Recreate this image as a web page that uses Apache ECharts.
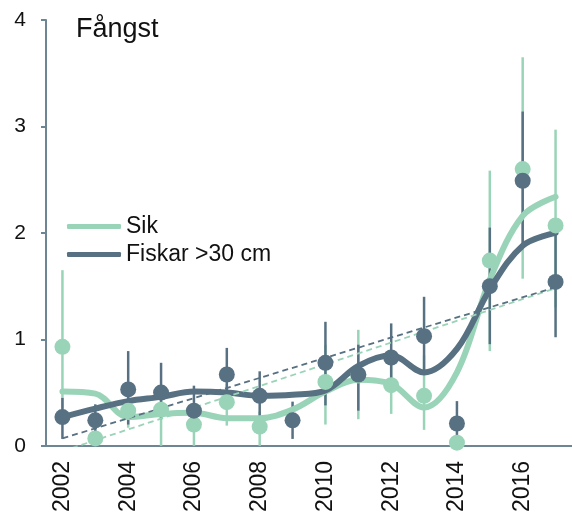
<!DOCTYPE html>
<html>
<head>
<meta charset="utf-8">
<script src="https://cdn.jsdelivr.net/npm/echarts@6/dist/echarts.min.js"></script>
<style>html,body{margin:0;padding:0;background:#fff;}#c{width:572px;height:515px;}</style>
</head>
<body>
<div id="c"></div>
<script>
const years = ['2002','2003','2004','2005','2006','2007','2008','2009','2010','2011','2012','2013','2014','2015','2016','2017'];
const yTicks = [0, 1, 2, 3, 4];

// Sik (whitefish) observed catch and interval
const sikValues = [0.93, 0.07, 0.33, 0.34, 0.20, 0.41, 0.18, null, 0.60, 0.66, 0.57, 0.47, 0.03, 1.74, 2.60, 2.07];
const sikLow    = [0.35, 0.00, 0.17, 0.00, 0.00, 0.19, 0.00, null, 0.20, 0.25, 0.30, 0.15, 0.00, 0.89, 1.57, 1.30];
const sikHigh   = [1.65, 0.14, 0.47, 0.50, 0.36, 0.58, 0.32, null, 0.95, 1.09, 0.85, 0.85, 0.06, 2.585, 3.65, 2.97];
const sikSmooth = [0.51, 0.49, 0.27, 0.30, 0.31, 0.26, 0.26, 0.34, 0.51, 0.62, 0.58, 0.36, 0.69, 1.56, 2.16, 2.34];
const sikTrend  = [-0.05, 1.48]; // 2002, 2017

// Fiskar >30 cm
const bigValues = [0.27, 0.24, 0.53, 0.50, 0.33, 0.67, 0.47, 0.24, 0.78, 0.67, 0.83, 1.03, 0.21, 1.50, 2.49, 1.54];
const bigLow    = [0.065, 0.10, 0.20, 0.25, 0.18, 0.45, 0.25, 0.065, 0.38, 0.33, 0.50, 0.67, 0.00, 0.955, 1.88, 1.02];
const bigHigh   = [0.45, 0.39, 0.89, 0.78, 0.565, 0.92, 0.70, 0.415, 1.165, 0.95, 1.15, 1.40, 0.42, 2.05, 3.14, 1.98];
const bigSmooth = [0.27, 0.35, 0.42, 0.46, 0.51, 0.50, 0.47, 0.48, 0.52, 0.75, 0.85, 0.69, 0.91, 1.47, 1.88, 2.00];
const bigTrend  = [0.07, 1.49]; // 2002, 2017

const LIGHT = '#9AD4B8';
const DARK = '#577082';
const AXIS = '#6E8594';
const FONT = '"Liberation Sans", Arial, sans-serif';

function errSeries(name, low, high, color, width, z) {
  return {
    name: name, type: 'custom', z: z, silent: true,
    encode: {x: 0, y: [1, 2]},
    data: years.map((y, i) => low[i] == null ? null : [i, low[i], high[i]]).filter(d => d),
    renderItem: function (params, api) {
      const a = api.coord([api.value(0), api.value(1)]);
      const b = api.coord([api.value(0), api.value(2)]);
      return {type: 'line', shape: {x1: a[0], y1: a[1], x2: b[0], y2: b[1]},
        style: {stroke: color, lineWidth: width}};
    }
  };
}

const chart = echarts.init(document.getElementById('c'), null, {renderer: 'canvas'});
chart.setOption({
  animation: false,
  backgroundColor: '#fff',
  title: {
    text: 'Fångst', left: 76, top: 16, padding: 0,
    textStyle: {fontFamily: FONT, fontSize: 27, fontWeight: 'normal', color: '#111'}
  },
  legend: {
    orient: 'vertical', left: 67, top: 215, padding: 0,
    itemWidth: 54, itemHeight: 5, itemGap: 5,
    icon: 'roundRect',
    textStyle: {fontFamily: FONT, fontSize: 23, color: '#111', padding: [0, 0, 0, 0]},
    data: ['Sik', 'Fiskar >30 cm']
  },
  grid: {left: 46, top: 20, width: 529, height: 427, containLabel: false},
  xAxis: {
    type: 'category', data: years, boundaryGap: true,
    axisLine: {lineStyle: {color: AXIS, width: 2}},
    axisTick: {alignWithLabel: true, interval: 0, length: 6, lineStyle: {color: AXIS, width: 2}},
    axisLabel: {interval: 1, rotate: 90, margin: 15, fontFamily: FONT, fontSize: 23, color: '#111'},
    splitLine: {show: false}
  },
  yAxis: {
    type: 'value', min: yTicks[0], max: yTicks[yTicks.length - 1], interval: 1,
    axisLine: {show: true, lineStyle: {color: AXIS, width: 2}},
    axisTick: {show: true, length: 5, lineStyle: {color: AXIS, width: 2}},
    axisLabel: {margin: 20, fontFamily: FONT, fontSize: 21, color: '#111'},
    splitLine: {show: false}
  },
  series: [
    errSeries('sikErr', sikLow, sikHigh, LIGHT, 2.5, 1),
    errSeries('bigErr', bigLow, bigHigh, DARK, 2.5, 2),
    {
      name: 'Sik', type: 'line', z: 3, smooth: 0.35, showSymbol: false, silent: true,
      color: LIGHT, itemStyle: {color: LIGHT},
      lineStyle: {color: LIGHT, width: 6, cap: 'round'},
      data: sikSmooth
    },
    {
      name: 'Fiskar >30 cm', type: 'line', z: 4, smooth: 0.35, showSymbol: false, silent: true,
      color: DARK, itemStyle: {color: DARK},
      lineStyle: {color: DARK, width: 6, cap: 'round'},
      data: bigSmooth
    },
    {
      name: 'sikTrend', type: 'line', z: 5, showSymbol: false, silent: true, clip: true,
      lineStyle: {color: LIGHT, width: 1.8, type: [6, 4]},
      data: [[years[0], sikTrend[0]], [years[years.length - 1], sikTrend[1]]]
    },
    {
      name: 'bigTrend', type: 'line', z: 5, showSymbol: false, silent: true, clip: true,
      lineStyle: {color: DARK, width: 1.8, type: [6, 4]},
      data: [[years[0], bigTrend[0]], [years[years.length - 1], bigTrend[1]]]
    },
    {
      name: 'sikPts', type: 'scatter', z: 6, symbol: 'circle', symbolSize: 16, silent: true,
      itemStyle: {color: LIGHT, opacity: 1},
      data: sikValues.map((v, i) => v == null ? null : [i, v]).filter(d => d)
    },
    {
      name: 'bigPts', type: 'scatter', z: 7, symbol: 'circle', symbolSize: 16, silent: true,
      itemStyle: {color: DARK, opacity: 1},
      data: bigValues.map((v, i) => [i, v])
    }
  ]
});
</script>
</body>
</html>
